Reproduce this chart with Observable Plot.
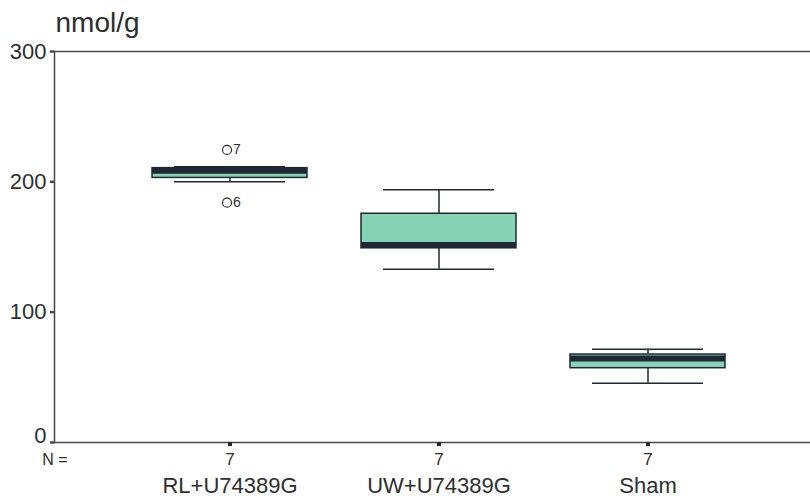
<!DOCTYPE html>
<html><head><meta charset="utf-8">
<script src="https://cdn.jsdelivr.net/npm/d3@7"></script>
<script src="https://cdn.jsdelivr.net/npm/@observablehq/plot@0.6"></script>
<style>body{margin:0;background:#fff;}</style>
</head><body><div id="chart"></div>
<script>
const groups = ["RL+U74389G", "UW+U74389G", "Sham"];
const nCounts = [7, 7, 7];
const whiskerLow = [200, 133, 45.5];
const q1 = [203, 149, 57];
const medians = [208.5, 151.5, 64.5];
const q3 = [210.5, 175.5, 67.5];
const whiskerHigh = [211.5, 194, 71.5];
const outlierGroup = ["RL+U74389G", "RL+U74389G"];
const outlierValue = [224.5, 184];
const outlierCase = ["7", "6"];
const yTicks = [0, 100, 200, 300];
const yLabel = "nmol/g";
const nLabel = "N =";

const rows = groups.map((g, i) => ({group: g, n: String(nCounts[i]), lo: whiskerLow[i], q1: q1[i], med: medians[i], q3: q3[i], hi: whiskerHigh[i]}));
const outliers = outlierGroup.map((g, i) => ({group: g, value: outlierValue[i], label: outlierCase[i]}));

const dark = "#1f2833";
const teal = "#86d3b6";
const axisCol = "#4a4a4a";
const textCol = "#2e2e2e";

const chart = Plot.plot({
  width: 810, height: 496,
  marginLeft: 54, marginRight: 0, marginTop: 51, marginBottom: 54,
  style: {fontFamily: "'Liberation Sans', Arial, sans-serif", color: textCol, background: "#fff", overflow: "visible"},
  x: {type: "band", domain: groups, range: [151, 727], paddingInner: 0.257, paddingOuter: 0, axis: null},
  y: {domain: [0, 300], axis: null},
  marks: [
    Plot.ruleY([300, 0], {stroke: axisCol, strokeWidth: 1.5}),
    Plot.frame({anchor: "left", stroke: axisCol, strokeWidth: 1.5}),
    Plot.axisY({ticks: yTicks, tickSize: 4, tickPadding: 4, fontSize: 22, label: null, stroke: axisCol, strokeWidth: 2.5,
      tickFormat: d => d === 0 ? "" : String(d), fill: textCol}),
    Plot.text([0], {y: d => d, frameAnchor: "left", lineAnchor: "middle", dx: -8, dy: -7, textAnchor: "end", fontSize: 22, fill: textCol, text: d => String(d)}),
    Plot.axisX({tickSize: 4, strokeWidth: 4, stroke: dark, tickFormat: () => "", label: null}),
    Plot.ruleX(rows, {x: "group", y1: "q3", y2: "hi", stroke: dark, strokeWidth: 1.5}),
    Plot.ruleX(rows, {x: "group", y1: "lo", y2: "q1", stroke: dark, strokeWidth: 1.5}),
    Plot.tickY(rows, {x: "group", y: "hi", insetLeft: 22, insetRight: 22, stroke: dark, strokeWidth: 1.5}),
    Plot.tickY(rows, {x: "group", y: "lo", insetLeft: 22, insetRight: 22, stroke: dark, strokeWidth: 1.5}),
    Plot.barY(rows, {x: "group", y1: "q1", y2: "q3", fill: teal, stroke: dark, strokeWidth: 1.5}),
    Plot.tickY(rows, {x: "group", y: "med", stroke: dark, strokeWidth: 6}),
    Plot.dot(outliers, {x: "group", y: "value", r: 4.5, stroke: textCol, strokeWidth: 1.2, dx: -3}),
    Plot.text(outliers, {x: "group", y: "value", text: "label", dx: 3, textAnchor: "start", fontSize: 14, fill: textCol}),
    Plot.text(rows, {x: "group", text: "n", frameAnchor: "bottom", lineAnchor: "middle", dy: 17, fontSize: 17, fill: textCol}),
    Plot.text(rows, {x: "group", text: "group", frameAnchor: "bottom", lineAnchor: "middle", dy: 43, fontSize: 22, fill: textCol}),
    Plot.text([nLabel], {frameAnchor: "bottom-left", lineAnchor: "middle", dx: 13, dy: 17, textAnchor: "end", fontSize: 16, fill: textCol, text: d => d}),
    Plot.text([yLabel], {frameAnchor: "top-left", lineAnchor: "middle", dx: 1, dy: -28, textAnchor: "start", fontSize: 28, fill: textCol, text: d => d})
  ]
});
document.getElementById("chart").append(chart);
</script>
</body></html>
